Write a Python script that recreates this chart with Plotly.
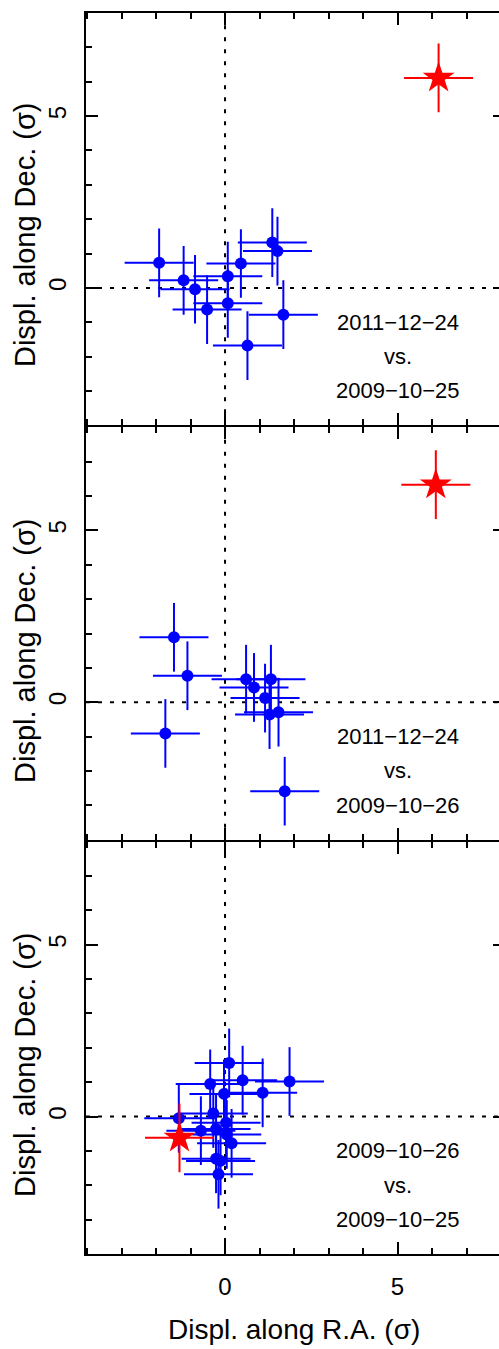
import plotly.graph_objects as go

# ---- data (displacements in sigma) ----
p1_ra = [-1.91, -1.20, -0.87, -0.52, 0.08, 0.08, 0.46, 0.65, 1.37, 1.52, 1.69]
p1_dec = [0.73, 0.22, -0.04, -0.63, 0.34, -0.45, 0.71, -1.68, 1.32, 1.07, -0.78]
p1_err = [1.0] * len(p1_ra)
p1_star_ra = [6.19]
p1_star_dec = [6.11]

p2_ra = [-1.48, -1.09, -1.73, 0.61, 0.84, 1.16, 1.33, 1.29, 1.55, 1.73]
p2_dec = [1.89, 0.77, -0.91, 0.67, 0.43, 0.12, 0.67, -0.36, -0.29, -2.59]
p2_err = [1.0] * len(p2_ra)
p2_star_ra = [6.11]
p2_star_dec = [6.33]

p3_ra = [-1.34, -0.43, 0.12, 0.51, 1.87, -0.03, 1.09, -0.34, -0.70, -0.26,
         0.03, 0.05, 0.19, -0.26, -0.13, -0.19]
p3_dec = [-0.05, 0.95, 1.56, 1.06, 1.02, 0.66, 0.69, 0.09, -0.41, -0.36,
          -0.18, -0.52, -0.78, -1.23, -1.29, -1.68]
p3_err = [1.0] * len(p3_ra)
p3_star_ra = [-1.32]
p3_star_dec = [-0.62]
star_err = [1.0]

labels = [
    ["2011\u221212\u221224", "vs.", "2009\u221210\u221225"],
    ["2011\u221212\u221224", "vs.", "2009\u221210\u221226"],
    ["2009\u221210\u221226", "vs.", "2009\u221210\u221225"],
]
label_x = 5
label_y = [-1, -2, -3]

x_title = "Displ. along R.A. (\u03c3)"
y_title = "Displ. along Dec. (\u03c3)"

FONT = "Liberation Sans, Arial, sans-serif"
BLUE = "#0000ff"
RED = "#ff0000"

panels = [
    (p1_ra, p1_dec, p1_err, p1_star_ra, p1_star_dec),
    (p2_ra, p2_dec, p2_err, p2_star_ra, p2_star_dec),
    (p3_ra, p3_dec, p3_err, p3_star_ra, p3_star_dec),
]

fig = go.Figure()
for i, (rx, ry, er, sx, sy) in enumerate(panels):
    xa = "x" if i == 0 else f"x{i+1}"
    ya = "y" if i == 0 else f"y{i+1}"
    fig.add_trace(go.Scatter(
        x=rx, y=ry, mode="markers", xaxis=xa, yaxis=ya,
        marker=dict(symbol="circle", size=12, color=BLUE, line=dict(width=0)),
        error_x=dict(type="data", array=er, color=BLUE, thickness=2, width=0),
        error_y=dict(type="data", array=er, color=BLUE, thickness=2, width=0),
        showlegend=False, hoverinfo="skip"))
    fig.add_trace(go.Scatter(
        x=sx, y=sy, mode="markers", xaxis=xa, yaxis=ya,
        marker=dict(symbol="star", size=24, color=RED, line=dict(width=0)),
        error_x=dict(type="data", array=star_err, color=RED, thickness=2, width=0),
        error_y=dict(type="data", array=star_err, color=RED, thickness=2, width=0),
        showlegend=False, hoverinfo="skip"))

# plot area: 1241 px tall; panels separated by 2 px so shared frame lines coincide
PLOT_H = 1241.0
GAP = 2.0 / PLOT_H
ph = (1.0 - 2 * GAP) / 3
domains = [[1.0 - ph, 1.0], [ph + GAP, 2 * ph + GAP], [0.0, ph]]

FIG_W = 505
PLOT_W = FIG_W - 86
PX_PER_UNIT = 34.5
x_lo = -4.03
x_hi = x_lo + PLOT_W / PX_PER_UNIT

axis_common = dict(
    showline=True, linecolor="black", linewidth=2, mirror="ticks",
    ticks="inside", ticklen=12, tickwidth=2, tickcolor="black",
    showgrid=False, zeroline=False, automargin=False,
    tickfont=dict(family=FONT, size=24, color="black"),
    minor=dict(ticks="inside", ticklen=6, tickwidth=2, tickcolor="black",
               dtick=1, showgrid=False),
)

layout = dict(
    width=FIG_W, height=1349,
    margin=dict(l=86, r=0, t=13, b=95, autoexpand=False),
    plot_bgcolor="white", paper_bgcolor="white",
    font=dict(family=FONT, color="black"),
)
for i in range(3):
    xk = "xaxis" if i == 0 else f"xaxis{i+1}"
    yk = "yaxis" if i == 0 else f"yaxis{i+1}"
    ya = "y" if i == 0 else f"y{i+1}"
    layout[xk] = dict(axis_common, range=[x_lo, x_hi], dtick=5, tick0=0,
                      anchor=ya, domain=[0, 1],
                      showticklabels=(i == 2), ticklabelstandoff=10,
                      **({} if i == 0 else {"matches": "x"}))
    layout[yk] = dict(axis_common, range=[-4.0, 8.0], dtick=5, tick0=0,
                      anchor="x" if i == 0 else f"x{i+1}",
                      domain=domains[i], tickangle=-90, ticklabelstandoff=8)

fig.update_layout(**layout)

# dotted reference lines at zero
for i in range(3):
    xr = "x" if i == 0 else f"x{i+1}"
    yr = "y" if i == 0 else f"y{i+1}"
    fig.add_shape(type="line", xref=xr, yref=f"{yr} domain", x0=0, x1=0, y0=0, y1=1,
                  line=dict(color="black", width=2, dash="4px,8px"), layer="below")
    fig.add_shape(type="line", xref=f"{xr} domain", yref=yr, x0=0, x1=1, y0=0, y1=0,
                  line=dict(color="black", width=2, dash="4px,8px"), layer="below")
    for line_text, ly in zip(labels[i], label_y):
        fig.add_annotation(x=label_x, y=ly, xref=xr, yref=yr, text=line_text,
                           showarrow=False, xanchor="center", yanchor="middle",
                           font=dict(family=FONT, size=22, color="black"))

# axis titles (paper coords relative to plot area)
title_y = [0.8211, 0.4859, 0.1523]
for ty in title_y:
    fig.add_annotation(x=(25 - 86) / PLOT_W, y=ty, xref="paper", yref="paper", text=y_title,
                       textangle=-90, showarrow=False, xanchor="center", yanchor="middle",
                       font=dict(family=FONT, size=29, color="black"))
fig.add_annotation(x=(294 - 86) / PLOT_W, y=-0.0612, xref="paper", yref="paper", text=x_title,
                   showarrow=False, xanchor="center", yanchor="middle",
                   font=dict(family=FONT, size=28, color="black"))

fig.write_html(
    "out.html",
    config={"displayModeBar": False, "staticPlot": True},
    post_script="document.body.style.margin='0';document.body.style.overflow='hidden';",
)
